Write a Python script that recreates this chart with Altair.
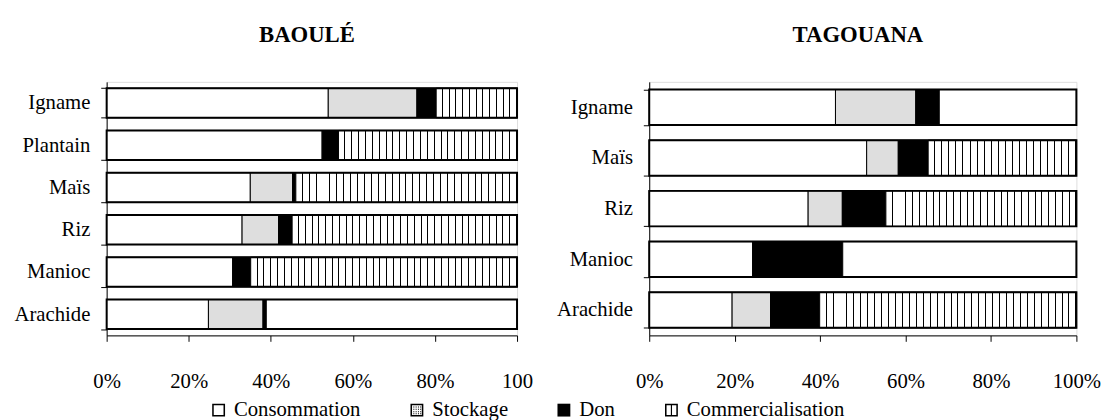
import altair as alt

# ---------------- data ----------------
categories = ["Consommation", "Stockage", "Don", "Commercialisation", "Autre"]
legend_categories = ["Consommation", "Stockage", "Don", "Commercialisation"]

baoule_crops = ["Igname", "Plantain", "Maïs", "Riz", "Manioc", "Arachide"]
baoule_consommation = [54.0, 52.5, 35.0, 33.0, 30.7, 24.8]
baoule_stockage = [21.6, 0.0, 10.3, 8.9, 0.0, 13.3]
baoule_don = [4.7, 4.0, 0.8, 3.3, 4.4, 0.8]
baoule_commercialisation = [19.7, 43.5, 53.9, 54.8, 64.9, 0.0]
baoule_autre = [0.0, 0.0, 0.0, 0.0, 0.0, 61.1]

tagouana_crops = ["Igname", "Maïs", "Riz", "Manioc", "Arachide"]
tagouana_consommation = [43.6, 50.9, 37.2, 24.2, 19.4]
tagouana_stockage = [18.8, 7.4, 8.0, 0.0, 9.0]
tagouana_don = [5.5, 7.0, 10.2, 21.1, 11.5]
tagouana_commercialisation = [0.0, 34.7, 44.6, 0.0, 60.1]
tagouana_autre = [32.1, 0.0, 0.0, 54.7, 0.0]

tick_values = [0, 20, 40, 60, 80, 100]

# ---------------- style ----------------
FONT = "Liberation Serif"
LEFT_W, RIGHT_W, PANEL_H = 416, 433, 257
STRIPE_PERIOD, STRIPE_LW = 7.0, 1.0
bar_fills = ["white", "#dedede", "black", "white"]

# legend symbols: black-filled SVG paths (frame + pattern) on a [-1, 1] box
RING = "M-1,-1H1V1H-1Z M-0.76,-0.76V0.76H0.76V-0.76Z"
DOTS = " ".join(
    f"M{px:.2f},{py:.2f}h0.16v0.16h-0.16Z"
    for px in (-0.56, -0.2, 0.16, 0.5)
    for py in (-0.56, -0.2, 0.16, 0.5)
)
VBAR = "M-0.09,-0.76h0.18V0.76h-0.18Z"
legend_shapes = [RING, RING + " " + DOTS, "M-1,-1H1V1H-1Z", RING + " " + VBAR]


def stripes(width_px):
    n = max(1, int(round(width_px / STRIPE_PERIOD)))
    lw = min(STRIPE_LW / width_px, 0.5 / n)
    stops = []
    for k in range(n):
        a, c = k / n, (k + 1) / n
        b = c - lw
        stops += [
            {"offset": a, "color": "white"},
            {"offset": b, "color": "white"},
            {"offset": b, "color": "black"},
            {"offset": c, "color": "black"},
        ]
    return {"gradient": "linear", "x1": 0, "y1": 0, "x2": 1, "y2": 0, "stops": stops}


def build(crops, series, panel_w):
    rows, totals = [], []
    for i, crop in enumerate(crops):
        start = 0.0
        for k, (cat, vals) in enumerate(zip(categories, series)):
            v = vals[i]
            if v > 0:
                row = {"crop": crop, "cat": cat, "start": start, "end": start + v, "order": k}
                if cat == "Commercialisation":
                    row["paint"] = stripes(v * panel_w / 100.0)
                elif cat == "Autre":
                    row["paint"] = "white"
                rows.append(row)
            start += v
        totals.append({"crop": crop, "zero": 0, "total": start})
    return rows, totals


LEGEND = alt.Legend(
    title=None, orient="none", legendX=103, legendY=322, padding=0,
    direction="horizontal", columns=4, columnPadding=46,
    symbolSize=170, symbolStrokeWidth=0, symbolFillColor="black",
    symbolOpacity=1, labelFont=FONT, labelFontSize=21,
    labelColor="black", labelOffset=5,
)
fill_scale = alt.Scale(domain=legend_categories, range=bar_fills)
shape_scale = alt.Scale(domain=legend_categories, range=legend_shapes)


def panel(title, crops, series, width, label_expr, dx, with_legend):
    rows, totals = build(crops, series, width)
    y = alt.Y(
        "crop:N",
        sort=crops,
        scale=alt.Scale(paddingInner=0.3, paddingOuter=0.15),
        axis=alt.Axis(
            title=None, tickBand="extent", tickSize=6, labelPadding=11,
            labelFont=FONT, labelFontSize=21, labelColor="black",
            domainColor="black", tickColor="black",
        ),
    )
    x = alt.X(
        "start:Q",
        scale=alt.Scale(domain=[0, 100], nice=False),
        axis=alt.Axis(
            title=None, values=tick_values, labelExpr=label_expr, grid=False,
            tickSize=6, labelPadding=30, labelFont=FONT, labelFontSize=21,
            labelColor="black", domainColor="black", tickColor="black",
            labelFlush=False, labelOverlap=False,
        ),
    )
    base = alt.Chart(
        alt.Data(values=[r for r in rows if r["cat"] in legend_categories])
    ).mark_bar(stroke="black", strokeWidth=1).encode(
        y=y, x=x, x2="end:Q",
        fill=alt.Fill("cat:N", scale=fill_scale, legend=None),
    )
    overlay = alt.Chart(
        alt.Data(values=[r for r in rows if "paint" in r])
    ).mark_bar(stroke="black", strokeWidth=1).encode(
        y=y, x=x, x2="end:Q", fill=alt.Fill("paint:N", scale=None)
    )
    outline = alt.Chart(alt.Data(values=totals)).mark_bar(
        fill="white", fillOpacity=0, stroke="black", strokeWidth=2
    ).encode(y=y, x=alt.X("zero:Q", scale=alt.Scale(domain=[0, 100], nice=False)), x2="total:Q")
    layers = [base, overlay, outline]
    if with_legend:
        key = alt.Chart(
            alt.Data(values=[{"cat": c, "crop": crops[0], "start": 0} for c in legend_categories])
        ).mark_point(filled=True, color="black", opacity=0, size=1).encode(
            y=y, x=x,
            shape=alt.Shape("cat:N", scale=shape_scale, legend=LEGEND),
        )
        layers.append(key)
    return alt.layer(*layers).resolve_scale(fill="independent").properties(
        width=width,
        height=PANEL_H,
        title=alt.TitleParams(
            text=title, font=FONT, fontSize=23, fontWeight="bold", color="black",
            anchor="middle", frame="group", offset=24, dx=dx,
        ),
    )


left = panel(
    "BAOULÉ", baoule_crops,
    [baoule_consommation, baoule_stockage, baoule_don, baoule_commercialisation, baoule_autre],
    LEFT_W, "datum.value == 100 ? '100' : datum.value + '%'", -5, True,
)
right = panel(
    "TAGOUANA", tagouana_crops,
    [tagouana_consommation, tagouana_stockage, tagouana_don, tagouana_commercialisation, tagouana_autre],
    RIGHT_W, "datum.value + '%'", -5, False,
)

chart = alt.hconcat(left, right, spacing=134, bounds="flush").properties(
    padding={"left": 5, "top": 13, "right": 5, "bottom": 5}
).configure_view(stroke=None).configure(background="white").configure_legend(
    labelFont=FONT, labelFontSize=21, labelColor="black",
    symbolStrokeWidth=0, symbolOpacity=1,
)

chart.save("out.html", embed_options={"renderer": "svg", "actions": False})
